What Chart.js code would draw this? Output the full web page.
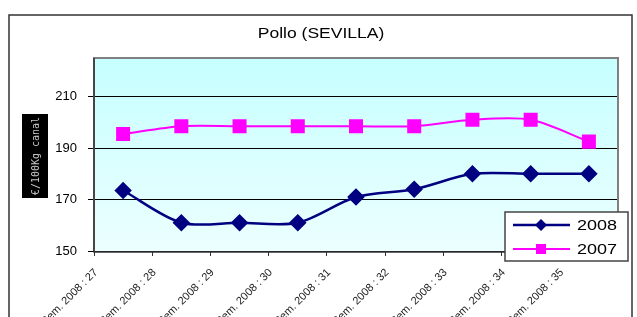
<!DOCTYPE html>
<html>
<head>
<meta charset="utf-8">
<script src="https://cdn.jsdelivr.net/npm/chart.js@4"></script>
<style>
  html, body { margin: 0; padding: 0; background: #fff; }
  #wrap { width: 637px; height: 317px; }
</style>
</head>
<body>
<div id="wrap"><canvas id="polloChart" width="637" height="317"></canvas></div>
<script>
// data
const chartTitle = "Pollo (SEVILLA)";
const weeks = [
  "Sem. 2008 : 27", "Sem. 2008 : 28", "Sem. 2008 : 29", "Sem. 2008 : 30",
  "Sem. 2008 : 31", "Sem. 2008 : 32", "Sem. 2008 : 33", "Sem. 2008 : 34",
  "Sem. 2008 : 35",
];
const values2008 = [173.5, 161, 161, 161, 171, 174, 180, 180, 180];
const values2007 = [195.5, 198.5, 198.5, 198.5, 198.5, 198.5, 201, 201, 192.5];
const yTicks = [150, 170, 190, 210];

// stretched text, the source picture has wide glyphs
function wideText(ctx, text, x, y, align, stretch) {
  ctx.save();
  ctx.translate(x, y);
  ctx.scale(stretch, 1);
  ctx.textAlign = align;
  ctx.fillText(text, 0, 0);
  ctx.restore();
}

// plot background, frames, title, y title box and the legend
const decorations = {
  id: "decorations",
  beforeDraw(chart) {
    const { ctx, chartArea: a } = chart;
    const g = ctx.createLinearGradient(0, a.top, 0, a.bottom);
    g.addColorStop(0, "#c6ffff");
    g.addColorStop(1, "#ecffff");
    ctx.save();
    ctx.fillStyle = g;
    ctx.fillRect(a.left, a.top, a.right - a.left, a.bottom - a.top);
    ctx.restore();
  },
  afterDraw(chart) {
    const { ctx, chartArea: a } = chart;
    ctx.save();
    // plot frame
    ctx.strokeStyle = "#808080";
    ctx.lineWidth = 2;
    ctx.beginPath();
    ctx.moveTo(a.left, a.bottom);
    ctx.lineTo(a.left, a.top);
    ctx.lineTo(a.right, a.top);
    ctx.lineTo(a.right, a.bottom);
    ctx.stroke();
    ctx.strokeStyle = "#333";
    ctx.lineWidth = 1.5;
    ctx.beginPath();
    ctx.moveTo(a.left, a.top);
    ctx.lineTo(a.left, a.bottom + 1);
    ctx.lineTo(a.right, a.bottom + 1);
    ctx.stroke();

    // outer chart border
    ctx.beginPath();
    ctx.moveTo(9, 330);
    ctx.lineTo(9, 15);
    ctx.lineTo(632, 15);
    ctx.lineTo(632, 330);
    ctx.stroke();

    // title
    ctx.fillStyle = "#000";
    ctx.font = "14px 'Liberation Sans'";
    ctx.textBaseline = "middle";
    wideText(ctx, chartTitle, 321, 34, "center", 1.25);

    // y axis title, light text on a black box
    ctx.fillRect(22, 114, 26, 84);
    ctx.translate(36, 156);
    ctx.rotate(-Math.PI / 2);
    ctx.fillStyle = "#c8c8c8";
    ctx.font = "10px 'DejaVu Sans Mono'";
    ctx.textAlign = "center";
    ctx.fillText("€/100Kg canal", 0, 0);
    ctx.setTransform(1, 0, 0, 1, 0, 0);

    // legend box
    ctx.fillStyle = "#fff";
    ctx.fillRect(505, 212, 123, 49);
    ctx.strokeStyle = "#444";
    ctx.lineWidth = 1.5;
    ctx.strokeRect(505, 212, 123, 49);
    chart.data.datasets.forEach((ds, i) => {
      const y = 225 + i * 24;
      ctx.strokeStyle = ds.borderColor;
      ctx.lineWidth = ds.borderWidth;
      ctx.beginPath();
      ctx.moveTo(513, y);
      ctx.lineTo(570, y);
      ctx.stroke();
      ctx.fillStyle = ds.backgroundColor;
      if (ds.pointStyle === "rectRot") {
        ctx.beginPath();
        ctx.moveTo(541, y - 6);
        ctx.lineTo(547, y);
        ctx.lineTo(541, y + 6);
        ctx.lineTo(535, y);
        ctx.closePath();
        ctx.fill();
      } else {
        ctx.fillRect(536, y - 5, 10, 10);
      }
      ctx.fillStyle = "#000";
      ctx.font = "15px 'Liberation Sans'";
      ctx.textBaseline = "middle";
      wideText(ctx, ds.label, 577, y + 1, "left", 1.2);
    });
    ctx.restore();
  },
};

new Chart(document.getElementById("polloChart"), {
  type: "line",
  data: {
    labels: weeks,
    datasets: [
      {
        label: "2008",
        data: values2008,
        borderColor: "#000080",
        backgroundColor: "#000080",
        borderWidth: 2.5,
        pointStyle: "rectRot",
        pointRadius: 7,
        pointHoverRadius: 7,
        tension: 0.3,
      },
      {
        label: "2007",
        data: values2007,
        borderColor: "#ff00ff",
        backgroundColor: "#ff00ff",
        borderWidth: 2,
        pointStyle: "rect",
        pointRadius: 8.5,
        pointHoverRadius: 8.5,
        tension: 0.3,
      },
    ],
  },
  options: {
    responsive: false,
    animation: false,
    layout: { padding: { left: 26, right: 19, top: 58, bottom: 0 } },
    plugins: {
      legend: { display: false },
      tooltip: { enabled: false },
      title: { display: false },
    },
    scales: {
      x: {
        offset: true,
        grid: {
          offset: true,
          drawOnChartArea: false,
          color: "#333",
          tickLength: 5,
        },
        border: { display: false },
        ticks: {
          autoSkip: false,
          minRotation: 45,
          maxRotation: 45,
          labelOffset: -27,
          color: "#222",
          font: { family: "'Liberation Sans'", size: 11 },
          padding: 10,
        },
        afterFit(scale) {
          scale.height = 66;
        },
      },
      y: {
        min: 150,
        max: 225,
        afterBuildTicks(scale) {
          scale.ticks = yTicks.map((v) => ({ value: v }));
        },
        grid: { color: "#000", lineWidth: 1, tickLength: 6 },
        border: { display: false },
        ticks: {
          color: "#000",
          font: { family: "'Liberation Sans'", size: 13 },
          padding: 11,
        },
        afterFit(scale) {
          scale.width = 68;
        },
      },
    },
  },
  plugins: [decorations],
});
</script>
</body>
</html>
